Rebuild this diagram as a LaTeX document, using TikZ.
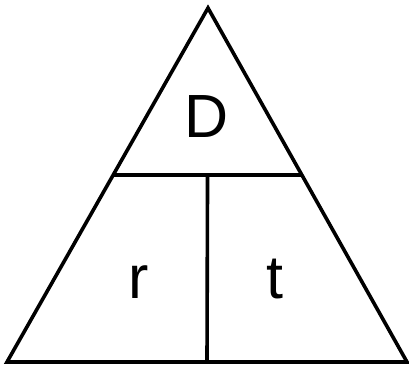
\documentclass[tikz,border=0pt]{standalone}
\usepackage{fontspec}
\setmainfont{Liberation Sans}
\usetikzlibrary{calc}
\begin{document}
\begin{tikzpicture}[x=1pt, y=-1pt, line join=miter, line width=3.6pt,
  letter/.style={inner sep=0pt, anchor=base, font=\fontsize{61}{61}\selectfont}]
  \useasboundingbox (0,0) rectangle (409,367);
  % corners of the triangle
  \coordinate (top) at (208,8);
  \coordinate (left) at (7,362);
  \coordinate (right) at (407,362);
  % dividing lines
  \coordinate (midleft) at ($(top)!0.472!(left)$);
  \coordinate (midright) at ($(top)!0.472!(right)$);
  \coordinate (midcentre) at ($(midleft)!0.5!(midright)$);
  \coordinate (basecentre) at ($(left)!0.5!(right)$);
  \draw (top) -- (left) -- (right) -- cycle;
  \draw (midleft) -- (midright);
  \draw (midcentre) -- (basecentre);
  % letters
  \node[letter] (dist) at (207,137) {D};
  \node[letter] (rate) at (139,298) {r};
  \node[letter] (time) at (275,298) {t};
\end{tikzpicture}
\end{document}
